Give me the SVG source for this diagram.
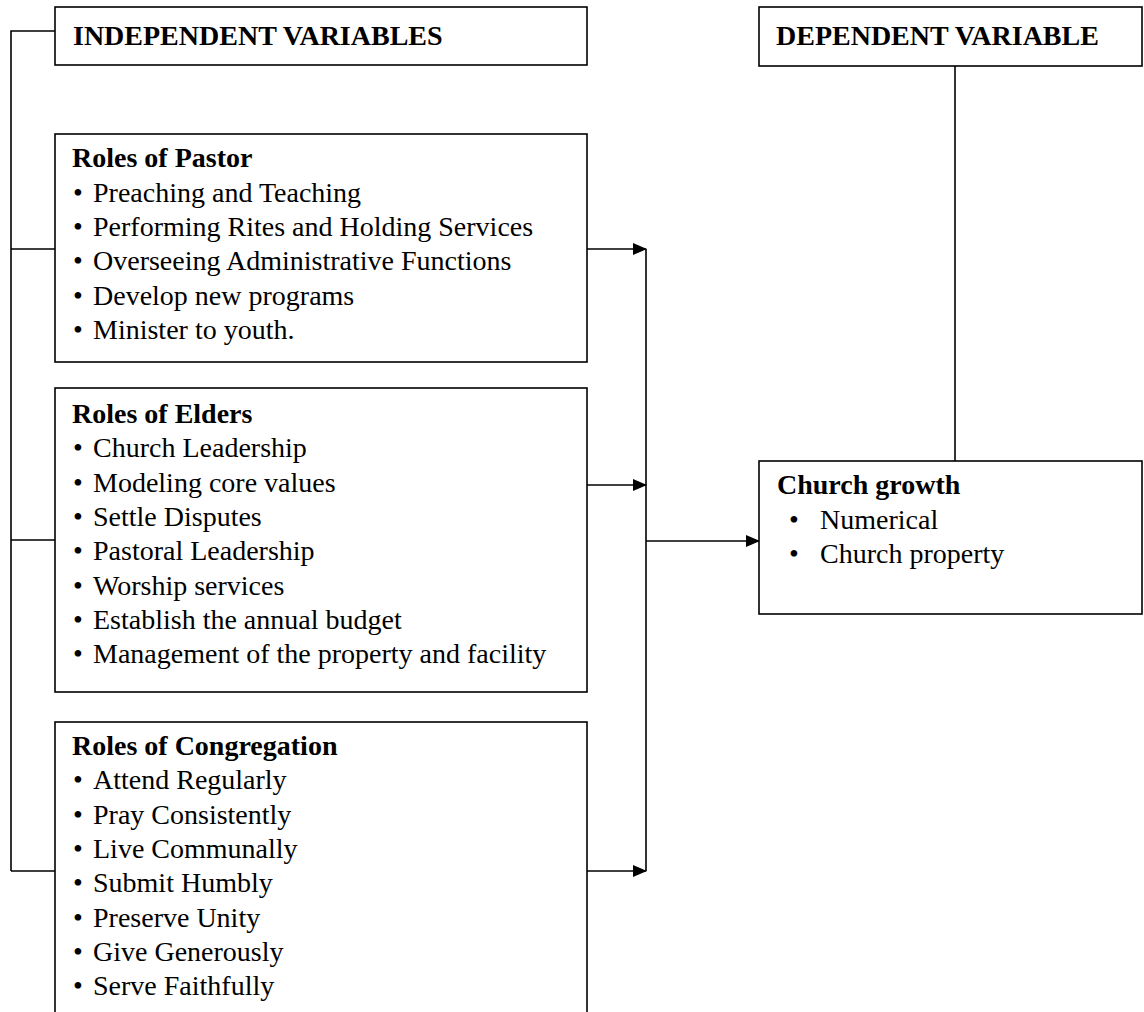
<svg xmlns="http://www.w3.org/2000/svg" width="1144" height="1012" viewBox="0 0 1144 1012">
<defs>
<style>
.box{fill:#fff;stroke:#000;stroke-width:1.6}
.ln{fill:none;stroke:#000;stroke-width:1.6}
text{font-family:"Liberation Serif","Times New Roman",serif;font-size:28px;fill:#000}
.b{font-weight:bold}
</style>
<marker id="ah" markerUnits="userSpaceOnUse" markerWidth="14" markerHeight="12" refX="13" refY="6" orient="auto">
<path d="M0,0 L14,6 L0,12 Z" fill="#000"/>
</marker>
</defs>
<rect width="1144" height="1012" fill="#fff"/>
<g id="connectors">
<path class="ln" d="M55,31 H11 V871 M11,249 H55 M11,540 H55 M11,871 H55"/>
<path class="ln" d="M646,249 V871"/>
<path class="ln" d="M587,249 H646" marker-end="url(#ah)"/>
<path class="ln" d="M587,485 H646" marker-end="url(#ah)"/>
<path class="ln" d="M587,871 H646" marker-end="url(#ah)"/>
<path class="ln" d="M646,541 H759" marker-end="url(#ah)"/>
<path class="ln" d="M955,66 V461"/>
</g>
<g id="independent">
<rect class="box" x="55" y="7" width="532" height="58"/>
<text class="b" x="73" y="45">INDEPENDENT VARIABLES</text>
</g>
<g id="dependent">
<rect class="box" x="759" y="7" width="383" height="59"/>
<text class="b" x="776" y="45">DEPENDENT VARIABLE</text>
</g>
<g id="pastor">
<rect class="box" x="55" y="134" width="532" height="228"/>
<text class="b" x="72" y="167">Roles of Pastor</text>
<text y="202"><tspan x="73">•</tspan><tspan x="93">Preaching and Teaching</tspan></text>
<text y="236"><tspan x="73">•</tspan><tspan x="93">Performing Rites and Holding Services</tspan></text>
<text y="270"><tspan x="73">•</tspan><tspan x="93">Overseeing Administrative Functions</tspan></text>
<text y="305"><tspan x="73">•</tspan><tspan x="93">Develop new programs</tspan></text>
<text y="339"><tspan x="73">•</tspan><tspan x="93">Minister to youth.</tspan></text>
</g>
<g id="elders">
<rect class="box" x="55" y="388" width="532" height="304"/>
<text class="b" x="72" y="423">Roles of Elders</text>
<text y="457"><tspan x="73">•</tspan><tspan x="93">Church Leadership</tspan></text>
<text y="492"><tspan x="73">•</tspan><tspan x="93">Modeling core values</tspan></text>
<text y="526"><tspan x="73">•</tspan><tspan x="93">Settle Disputes</tspan></text>
<text y="560"><tspan x="73">•</tspan><tspan x="93">Pastoral Leadership</tspan></text>
<text y="595"><tspan x="73">•</tspan><tspan x="93">Worship services</tspan></text>
<text y="629"><tspan x="73">•</tspan><tspan x="93">Establish the annual budget</tspan></text>
<text y="663"><tspan x="73">•</tspan><tspan x="93">Management of the property and facility</tspan></text>
</g>
<g id="congregation">
<rect class="box" x="55" y="722" width="532" height="320"/>
<text class="b" x="72" y="755">Roles of Congregation</text>
<text y="789"><tspan x="73">•</tspan><tspan x="93">Attend Regularly</tspan></text>
<text y="824"><tspan x="73">•</tspan><tspan x="93">Pray Consistently</tspan></text>
<text y="858"><tspan x="73">•</tspan><tspan x="93">Live Communally</tspan></text>
<text y="892"><tspan x="73">•</tspan><tspan x="93">Submit Humbly</tspan></text>
<text y="927"><tspan x="73">•</tspan><tspan x="93">Preserve Unity</tspan></text>
<text y="961"><tspan x="73">•</tspan><tspan x="93">Give Generously</tspan></text>
<text y="995"><tspan x="73">•</tspan><tspan x="93">Serve Faithfully</tspan></text>
</g>
<g id="growth">
<rect class="box" x="759" y="461" width="383" height="153"/>
<text class="b" x="777" y="494">Church growth</text>
<text y="529"><tspan x="789">•</tspan><tspan x="820">Numerical</tspan></text>
<text y="563"><tspan x="789">•</tspan><tspan x="820">Church property</tspan></text>
</g>
</svg>
